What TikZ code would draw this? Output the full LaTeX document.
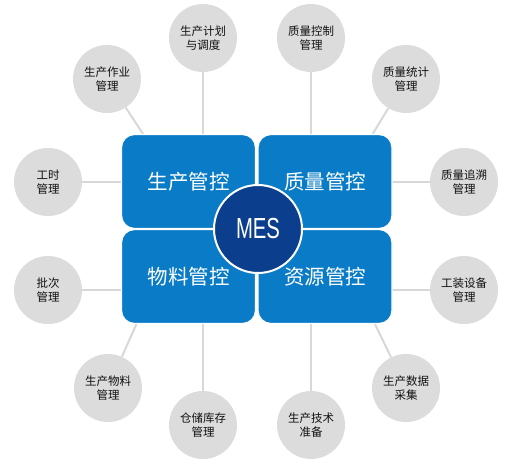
\documentclass[tikz,border=0pt]{standalone}
\usepackage{fontspec}
\newfontfamily\cjk{Noto Sans CJK SC}
\newfontfamily\mesfont{Liberation Sans}
\definecolor{boxblue}{HTML}{0A7CC7}
\definecolor{mesblue}{HTML}{0B3F8E}
\definecolor{cgray}{HTML}{DCDCDC}
\definecolor{lgray}{HTML}{D8D8D8}
\definecolor{txt}{HTML}{111111}
\tikzset{
  topic/.style={circle, fill=cgray, minimum size=68pt, inner sep=0pt, align=center,
    font=\cjk\fontsize{11.5}{14.5}\selectfont, text=txt},
  link/.style={draw=lgray, line width=2pt},
  quad/.style={rectangle, rounded corners=13pt, fill=boxblue, draw=white, line width=1.2pt,
    minimum width=134pt, minimum height=94pt, inner sep=0pt,
    font=\cjk\fontsize{20.5}{24}\selectfont, text=white},
  hub/.style={circle, fill=mesblue, draw=white, line width=2pt, minimum size=88pt, inner sep=0pt,
    text=white}
}
\begin{document}
\begin{tikzpicture}[x=1pt,y=-1pt]
\useasboundingbox (0,0) rectangle (513,465);
% outer topics
\node[topic] (t1) at (203,38) {生产计划\\与调度};
\node[topic] (t2) at (311,38) {质量控制\\管理};
\node[topic] (t3) at (107,79) {生产作业\\管理};
\node[topic] (t4) at (406,79) {质量统计\\管理};
\node[topic] (t5) at (48,182) {工时\\管理};
\node[topic] (t6) at (464,182) {质量追溯\\管理};
\node[topic] (t7) at (48,290) {批次\\管理};
\node[topic] (t8) at (464,290) {工装设备\\管理};
\node[topic] (t9) at (108,388) {生产物料\\管理};
\node[topic] (t10) at (406,388) {生产数据\\采集};
\node[topic] (t11) at (203,425) {仓储库存\\管理};
\node[topic] (t12) at (311,425) {生产技术\\准备};
% connector ends (hidden under the boxes)
\coordinate (e1) at (203,145);
\coordinate (e2) at (311,145);
\coordinate (e3) at (147,140);
\coordinate (e4) at (369,140);
\coordinate (e5) at (135,182);
\coordinate (e6) at (380,182);
\coordinate (e7) at (135,290);
\coordinate (e8) at (380,290);
\coordinate (e9) at (140,316);
\coordinate (e10) at (371,316);
\coordinate (e11) at (203,315);
\coordinate (e12) at (311,315);
\foreach \i in {1,...,12} {\draw[link] (t\i) -- (e\i);}
% quadrants
\node[quad] (q1) at (188.5,181.5) {生产管控};
\node[quad] (q2) at (325,181.5) {质量管控};
\node[quad] (q3) at (188.5,276.5) {物料管控};
\node[quad] (q4) at (325,276.5) {资源管控};
% hub
\node[hub] (mes) at (258,229) {\scalebox{0.7}[1]{\mesfont\fontsize{29}{32}\selectfont MES}};
\end{tikzpicture}
\end{document}
